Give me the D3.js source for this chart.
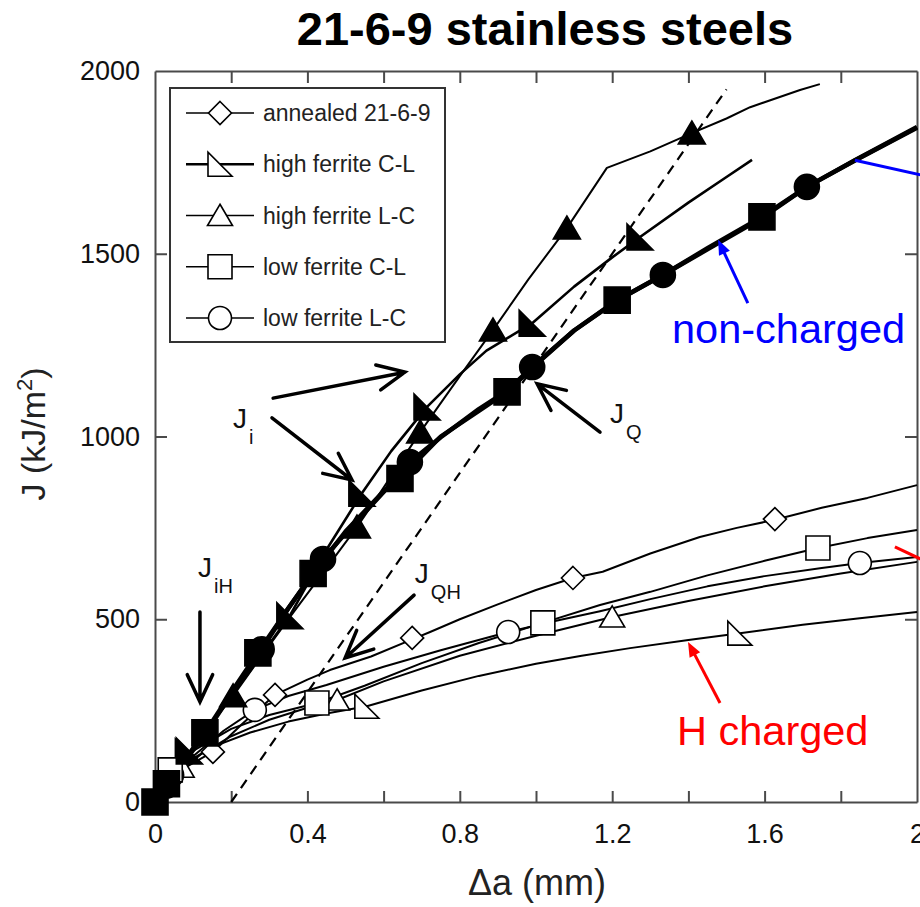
<!DOCTYPE html>
<html>
<head>
<meta charset="utf-8">
<script src="https://cdn.jsdelivr.net/npm/d3@7"></script>
<style>
  body { margin: 0; background: #fff; }
  svg { display: block; }
  text { font-family: "Liberation Sans", Arial, Helvetica, sans-serif; }
</style>
</head>
<body>
<svg id="chart" width="920" height="907"></svg>
<script>
// ---------- axis ticks ----------
const xTickValues = [0, 0.2, 0.4, 0.6, 0.8, 1.0, 1.2, 1.4, 1.6, 1.8, 2.0];
const xTickLabels = [0, 0.4, 0.8, 1.2, 1.6, 2];
const yTickValues = [0, 500, 1000, 1500, 2000];

// ---------- legend ----------
const legendLabels = ["annealed 21-6-9", "high ferrite C-L", "high ferrite L-C", "low ferrite C-L", "low ferrite L-C"];
const legendShapes = ["diamond", "rtri", "tri", "square", "circle"];

// ---------- non-charged J-R curves [Δa (mm), J (kJ/m²)] ----------
const ncHighCL = [[0,0],[0.05,70],[0.13,190],[0.25,360],[0.354,510],[0.45,690],[0.543,845],[0.62,960],[0.714,1081],[0.80,1170],[0.87,1235],[0.99,1310],[1.1,1410],[1.2,1490],[1.273,1546],[1.4,1640],[1.5,1710],[1.567,1757]];
const ncHighCLMarks = [[0.09,140],[0.354,510],[0.543,845],[0.714,1081],[0.99,1310],[1.273,1546]];

const ncHighLC = [[0,0],[0.04,60],[0.1,150],[0.205,290],[0.28,400],[0.354,506],[0.45,640],[0.53,752],[0.6,860],[0.696,1012],[0.8,1165],[0.887,1291],[0.98,1430],[1.081,1570],[1.186,1735],[1.3,1780],[1.409,1830],[1.5,1870],[1.562,1901],[1.693,1948],[1.745,1964]];
const ncHighLCMarks = [[0.205,290],[0.53,752],[0.696,1012],[0.887,1291],[1.081,1570],[1.409,1830]];

const ncLowCL = [[0,0],[0.03,50],[0.131,189],[0.2,300],[0.27,408],[0.35,530],[0.415,625],[0.5,740],[0.6,850],[0.643,885],[0.75,1000],[0.85,1070],[0.924,1122],[0.99,1188],[1.1,1290],[1.213,1373],[1.333,1442],[1.45,1515],[1.593,1601],[1.711,1683],[1.837,1756],[2.0,1847]];
const ncLowCLMarks = [[0,0],[0.03,50],[0.131,189],[0.27,408],[0.415,625],[0.643,885],[0.924,1122],[1.213,1373],[1.593,1601]];

const ncLowLC = [[0,0],[0.03,45],[0.131,185],[0.2,295],[0.28,418],[0.35,530],[0.441,665],[0.5,735],[0.6,848],[0.669,930],[0.75,998],[0.85,1075],[0.924,1125],[0.99,1190],[1.1,1290],[1.213,1372],[1.333,1442],[1.45,1512],[1.593,1598],[1.711,1683],[1.837,1755],[2.0,1845]];
const ncLowLCMarks = [[0.03,45],[0.28,418],[0.441,665],[0.669,930],[0.99,1190],[1.333,1442],[1.711,1683]];

// ---------- hydrogen-charged J-R curves ----------
const hAnnealed = [[0,0],[0.03,50],[0.08,95],[0.152,137],[0.23,215],[0.315,293],[0.4,335],[0.459,361],[0.567,398],[0.675,445],[0.722,465],[0.8,500],[0.898,540],[1.0,580],[1.097,613],[1.175,630],[1.3,680],[1.43,725],[1.527,750],[1.627,772],[1.75,805],[1.87,832],[2.0,867]];
const hAnnealedMarks = [[0.152,137],[0.315,293],[0.675,449],[1.097,613],[1.627,774]];

const hLowCL = [[0,0],[0.04,88],[0.1,140],[0.2,200],[0.3,238],[0.425,271],[0.55,318],[0.7,380],[0.85,435],[1.018,490],[1.168,539],[1.3,575],[1.45,620],[1.6,660],[1.74,695],[1.87,722],[2.0,744]];
const hLowCLMarks = [[0.04,88],[0.425,271],[1.018,490],[1.74,695]];

const hLowLC = [[0,0],[0.045,74],[0.1,125],[0.18,195],[0.262,252],[0.35,290],[0.45,320],[0.6,370],[0.75,415],[0.927,465],[1.05,495],[1.168,522],[1.3,555],[1.45,590],[1.6,618],[1.75,640],[1.85,654],[2.0,670]];
const hLowLCMarks = [[0.045,74],[0.262,252],[0.927,465],[1.85,654]];

const hHighLC = [[0,0],[0.05,70],[0.12,130],[0.2,180],[0.3,225],[0.4,258],[0.478,279],[0.6,330],[0.8,400],[1.0,455],[1.2,506],[1.4,550],[1.6,590],[1.8,625],[2.0,657]];
const hHighLCMarks = [[0.07,95],[0.478,279],[1.2,506]];

const hHighCL = [[0,0],[0.04,55],[0.085,110],[0.15,150],[0.25,190],[0.35,220],[0.45,242],[0.556,262],[0.7,305],[0.85,345],[1.0,378],[1.12,400],[1.247,421],[1.4,443],[1.535,462],[1.7,485],[1.85,503],[2.0,520]];
const hHighCLMarks = [[0.085,140],[0.556,262],[1.535,462]];

// blunting (offset) line
const bluntLine = [[0.2,0],[1.5,1950]];

// ---------- annotations (data units) ----------
const blackArrows = [
  [[0.310,1105],[0.656,1176]],
  [[0.307,1051],[0.517,881]],
  [[0.118,520],[0.118,274]],
  [[0.680,566],[0.499,394]],
  [[1.168,1012],[1.003,1144]]
];
const jLabels = [
  {pos:[0.205,1023], sub:"i"},
  {pos:[0.113,616], sub:"iH"},
  {pos:[0.682,599], sub:"QH"},
  {pos:[1.194,1037], sub:"Q"}
];
const blueArrow = [[1.556,1365],[1.478,1538]];
const blueLeader = [[1.837,1756],[2.021,1713]];
const redArrow = [[1.483,271],[1.399,438]];
const redLeader = [[1.942,698],[2.021,659]];
const nonChargedLabel = {text:"non-charged", pos:[1.357,1256]};
const hChargedLabel = {text:"H charged", pos:[1.370,156]};

// ---------- drawing ----------
const svg = d3.select("#chart");
const x = d3.scaleLinear().domain([0, 2]).range([155, 917]);
const y = d3.scaleLinear().domain([0, 2000]).range([802, 71]);
const axisColor = "#4a4a4a";

svg.append("text")
  .attr("x", 545).attr("y", 45)
  .attr("text-anchor", "middle")
  .attr("font-size", 47).attr("font-weight", "bold")
  .text("21-6-9 stainless steels");

// frame axes
const fmtX = d => xTickLabels.some(v => Math.abs(v - d) < 1e-9) ? d3.format("~g")(d) : "";
const gB = svg.append("g").attr("transform", `translate(0,${y(0)})`)
  .call(d3.axisBottom(x).tickValues(xTickValues).tickFormat(fmtX).tickSizeInner(-11).tickSizeOuter(0).tickPadding(22));
const gT = svg.append("g").attr("transform", `translate(0,${y(2000)})`)
  .call(d3.axisTop(x).tickValues(xTickValues).tickFormat("").tickSizeInner(-12).tickSizeOuter(0));
const gL = svg.append("g").attr("transform", `translate(${x(0)},0)`)
  .call(d3.axisLeft(y).tickValues(yTickValues).tickFormat(d3.format("d")).tickSizeInner(-12).tickSizeOuter(0).tickPadding(15));
const gR = svg.append("g").attr("transform", `translate(${x(2)},0)`)
  .call(d3.axisRight(y).tickValues(yTickValues).tickFormat("").tickSizeInner(-12).tickSizeOuter(0));
[gB, gT, gL, gR].forEach(g => {
  g.selectAll("path.domain").attr("stroke", axisColor).attr("stroke-width", 2);
  g.selectAll(".tick line").attr("stroke", axisColor).attr("stroke-width", 2);
  g.selectAll(".tick text").attr("fill", "#111").attr("font-size", 27)
    .attr("font-family", '"Liberation Sans", Arial, Helvetica, sans-serif');
});
gL.selectAll(".tick").filter(d => d === 2000).select("line").remove();
gL.selectAll(".tick").filter(d => d === 0).select("line").remove();
gR.selectAll(".tick").filter(d => d === 2000 || d === 0).select("line").remove();
gB.selectAll(".tick").filter(d => d === 0 || d === 2).select("line").remove();
gT.selectAll(".tick").filter(d => d === 0 || d === 2).select("line").remove();

// axis titles
svg.append("text")
  .attr("x", 537).attr("y", 895)
  .attr("text-anchor", "middle").attr("font-size", 36).attr("fill", "#222")
  .text("\u0394a (mm)");
const yl = svg.append("text")
  .attr("transform", "translate(45,434) rotate(-90)")
  .attr("text-anchor", "middle").attr("font-size", 34).attr("fill", "#222");
yl.append("tspan").text("J (kJ/m");
yl.append("tspan").attr("font-size", 22).attr("dy", -13).text("2");
yl.append("tspan").attr("dy", 13).text(")");

// marker shapes
function shapePath(shape, s) {
  switch (shape) {
    case "diamond": return `M0,${-s}L${s},0L0,${s}L${-s},0Z`;
    case "rtri": return `M${-s},${-s}L${-s},${s}L${s},${s}Z`;
    case "tri": return `M0,${-s * 0.9}L${s},${s * 0.8}L${-s},${s * 0.8}Z`;
    case "square": return `M${-s},${-s}H${s}V${s}H${-s}Z`;
    case "circle": return `M${s},0A${s},${s} 0 1,1 ${-s},0A${s},${s} 0 1,1 ${s},0Z`;
  }
}

const line = d3.line().x(d => x(d[0])).y(d => y(d[1]));
const plot = svg.append("g");

// blunting line
plot.append("path").datum(bluntLine).attr("d", line)
  .attr("fill", "none").attr("stroke", "#000").attr("stroke-width", 2.2)
  .attr("stroke-dasharray", "10,7");

// curves
const curves = [
  {data: hHighCL, marks: hHighCLMarks, shape: "rtri", filled: false, w: 2},
  {data: hHighLC, marks: hHighLCMarks, shape: "tri", filled: false, w: 2},
  {data: hLowLC, marks: hLowLCMarks, shape: "circle", filled: false, w: 2},
  {data: hLowCL, marks: hLowCLMarks, shape: "square", filled: false, w: 2},
  {data: hAnnealed, marks: hAnnealedMarks, shape: "diamond", filled: false, w: 2},
  {data: ncHighLC, marks: ncHighLCMarks, shape: "tri", filled: true, w: 2},
  {data: ncHighCL, marks: ncHighCLMarks, shape: "rtri", filled: true, w: 2.6},
  {data: ncLowLC, marks: ncLowLCMarks, shape: "circle", filled: true, w: 4.5},
  {data: ncLowCL, marks: ncLowCLMarks, shape: "square", filled: true, w: 4.5}
];
const sizes = {diamond: 11.5, rtri: 12, tri: 12.5, square: 12, circle: 11.5};
curves.forEach(c => {
  plot.append("path").datum(c.data).attr("d", line)
    .attr("fill", "none").attr("stroke", "#000").attr("stroke-width", c.w)
    .attr("stroke-linejoin", "round");
});
curves.forEach(c => {
  plot.selectAll(null).data(c.marks).enter().append("path")
    .attr("transform", d => `translate(${x(d[0])},${y(d[1])})`)
    .attr("d", shapePath(c.shape, sizes[c.shape] + (c.filled ? 1 : 0)))
    .attr("fill", c.filled ? "#000" : "#fff")
    .attr("stroke", "#000").attr("stroke-width", 1.6);
});

// legend
const lg = svg.append("g");
lg.append("rect").attr("x", 170).attr("y", 88).attr("width", 275).attr("height", 254)
  .attr("fill", "#fff").attr("stroke", "#333").attr("stroke-width", 2);
const legendY = d3.scalePoint().domain(legendLabels).range([113, 318]);
legendLabels.forEach((lab, i) => {
  const ly = legendY(lab);
  lg.append("line").attr("x1", 186).attr("x2", 254).attr("y1", ly).attr("y2", ly)
    .attr("stroke", "#000").attr("stroke-width", i === 1 ? 2.6 : 1.6);
  lg.append("path").attr("transform", `translate(220,${ly})`)
    .attr("d", shapePath(legendShapes[i], sizes[legendShapes[i]]))
    .attr("fill", "#fff").attr("stroke", "#000").attr("stroke-width", 1.6);
  lg.append("text").attr("x", 263).attr("y", ly + 8).attr("font-size", 23).attr("fill", "#222").text(lab);
});

// annotation arrows
function openArrow(a, color, width) {
  const [p0, p1] = a.map(p => [x(p[0]), y(p[1])]);
  const ang = Math.atan2(p1[1] - p0[1], p1[0] - p0[0]);
  const L = 30, h = 25 * Math.PI / 180;
  const b1 = [p1[0] - L * Math.cos(ang - h), p1[1] - L * Math.sin(ang - h)];
  const b2 = [p1[0] - L * Math.cos(ang + h), p1[1] - L * Math.sin(ang + h)];
  svg.append("path").attr("d", `M${p0}L${p1}M${b1}L${p1}L${b2}`)
    .attr("fill", "none").attr("stroke", color).attr("stroke-width", width)
    .attr("stroke-linecap", "round").attr("stroke-linejoin", "miter");
}
function solidArrow(a, color, width) {
  const [p0, p1] = a.map(p => [x(p[0]), y(p[1])]);
  const ang = Math.atan2(p1[1] - p0[1], p1[0] - p0[0]);
  const L = 16, h = 22 * Math.PI / 180;
  const b1 = [p1[0] - L * Math.cos(ang - h), p1[1] - L * Math.sin(ang - h)];
  const b2 = [p1[0] - L * Math.cos(ang + h), p1[1] - L * Math.sin(ang + h)];
  const base = [p1[0] - (L - 3) * Math.cos(ang), p1[1] - (L - 3) * Math.sin(ang)];
  svg.append("path").attr("d", `M${p0}L${base}`).attr("stroke", color).attr("stroke-width", width);
  svg.append("path").attr("d", `M${p1}L${b1}L${b2}Z`).attr("fill", color);
}
blackArrows.forEach(a => openArrow(a, "#000", 3.5));
solidArrow(blueArrow, "#0000ff", 3);
solidArrow(redArrow, "#ff0000", 3);
svg.append("path").datum(blueLeader).attr("d", line).attr("stroke", "#0000ff").attr("stroke-width", 3);
svg.append("path").datum(redLeader).attr("d", line).attr("stroke", "#ff0000").attr("stroke-width", 3);

// J labels with subscripts
jLabels.forEach(l => {
  const t = svg.append("text").attr("x", x(l.pos[0])).attr("y", y(l.pos[1]))
    .attr("font-size", 28).attr("fill", "#111");
  t.append("tspan").text("J");
  t.append("tspan").attr("dx", 2).attr("dy", 16).attr("font-size", 20).text(l.sub);
});

svg.append("text").attr("x", x(nonChargedLabel.pos[0])).attr("y", y(nonChargedLabel.pos[1]))
  .attr("font-size", 41.5).attr("fill", "#0000ff").text(nonChargedLabel.text);
svg.append("text").attr("x", x(hChargedLabel.pos[0])).attr("y", y(hChargedLabel.pos[1]))
  .attr("font-size", 41.5).attr("fill", "#ff0000").text(hChargedLabel.text);
</script>
</body>
</html>
